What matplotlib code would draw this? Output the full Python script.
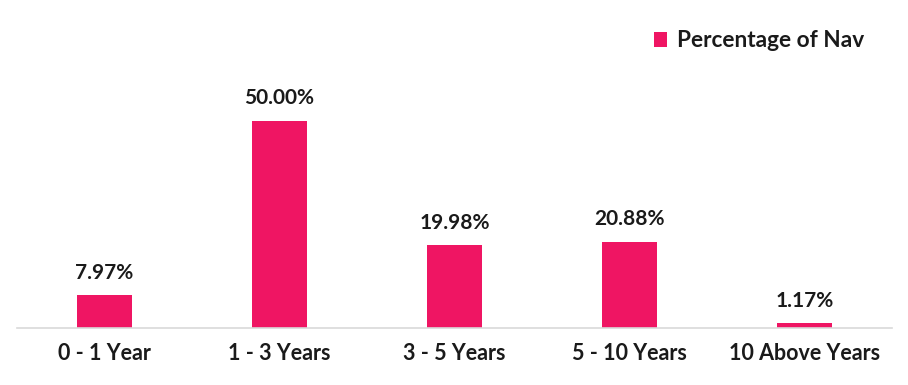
import numpy as np
import matplotlib.pyplot as plt

categories = ["0 - 1 Year", "1 - 3 Years", "3 - 5 Years", "5 - 10 Years", "10 Above Years"]
nav_pct = [7.97, 50.00, 19.98, 20.88, 1.17]
labels = ["7.97%", "50.00%", "19.98%", "20.88%", "1.17%"]

bar_color = "#EF1563"

plt.rcParams['font.family'] = ['Lato', 'DejaVu Sans']
plt.rcParams['font.weight'] = 'bold'

fig = plt.figure(figsize=(9.08, 3.85), dpi=100)
# axes: x from 17 to 892 px, baseline at y=328 px, top at y=30 px
ax = fig.add_axes([17/908, (385-328)/385, 875/908, 298/385])

x = np.arange(len(categories))
bars = ax.bar(x, nav_pct, width=0.314, color=bar_color, label="Percentage of Nav")

for xi, v, lab in zip(x, nav_pct, labels):
    ax.annotate(lab, (xi, v), xytext=(0, 9), textcoords="offset points",
                ha="center", va="bottom", fontsize=15, fontweight="bold", color="#1a1a1a")

ax.set_xlim(-0.5, len(categories) - 0.5)
ax.set_ylim(0, 50 * 298 / 207)
ax.set_xticks(x)
ax.set_xticklabels(categories, fontsize=15.5, fontweight="bold", color="#1a1a1a")
ax.tick_params(axis="x", length=0, pad=11)
ax.set_yticks([])
for s in ["top", "left", "right"]:
    ax.spines[s].set_visible(False)
ax.spines["bottom"].set_color("#d9d9d9")
ax.spines["bottom"].set_linewidth(1.2)

leg = fig.legend(handles=[bars], labels=["Percentage of Nav"], loc="upper right",
                 bbox_to_anchor=(885/908, 1 - 10/385), frameon=False,
                 prop={"size": 16.3, "weight": "bold"}, handlelength=0.6, handleheight=0.6,
                 handletextpad=0.45)
for t in leg.get_texts():
    t.set_color("#1a1a1a")

fig.savefig("out.png", dpi=100)
